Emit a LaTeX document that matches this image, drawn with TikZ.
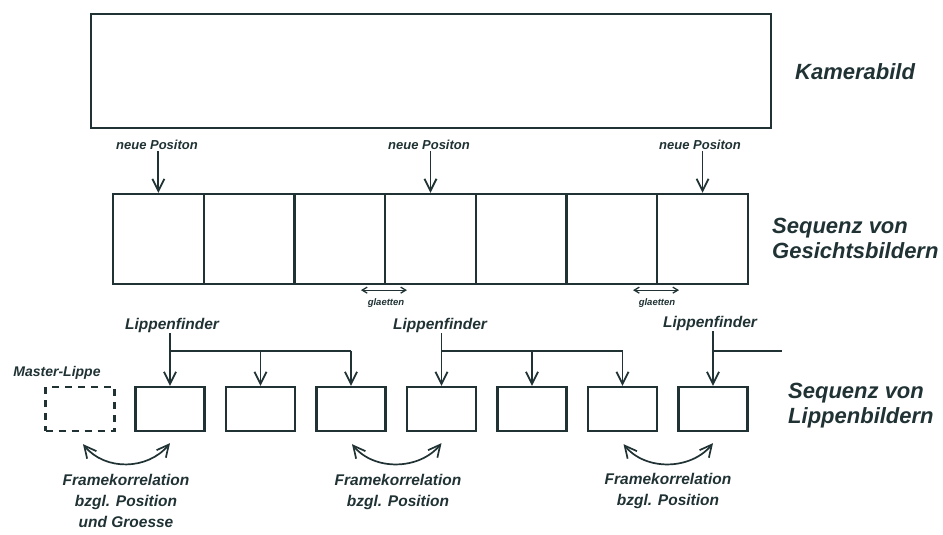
\documentclass[tikz,border=0pt]{standalone}
\usepackage{fontspec}
\setmainfont{Liberation Sans}
\usetikzlibrary{arrows.meta,calc}
\definecolor{ink}{RGB}{32,50,52}
\begin{document}
\begin{tikzpicture}[x=1pt,y=-1pt,
  every node/.style={text=ink,font=\bfseries\itshape},
  box/.style={draw=ink,line width=2.3pt,inner sep=0pt},
  cell/.style={box,minimum width=90.7pt,minimum height=90pt},
  lip/.style={box,minimum width=69pt,minimum height=44pt},
  conn/.style={draw=ink,line width=1.8pt},
  arr/.style={conn,-{Straight Barb[length=12pt,width=12pt,line width=1.8pt]}},
  dbl/.style={conn,line width=1.3pt,{Straight Barb[length=5pt,width=6pt]}-{Straight Barb[length=5pt,width=6pt]}},
  corr/.style={conn,line width=1.7pt,{Straight Barb[length=12pt,width=12pt,line width=1.7pt]}-{Straight Barb[length=12pt,width=12pt,line width=1.7pt]}},
  small/.style={font=\bfseries\itshape\fontsize{13}{15}\selectfont},
  tiny/.style={font=\bfseries\itshape\fontsize{9.5}{11}\selectfont},
  mid/.style={font=\bfseries\itshape\fontsize{15.5}{21}\selectfont},
  big/.style={font=\bfseries\itshape\fontsize{22}{25}\selectfont}]
\useasboundingbox (0,0) rectangle (943,535);

% camera image
\node[box,minimum width=680pt,minimum height=114pt,anchor=north west] (cam) at (90,13) {};
\node[big,anchor=west,inner sep=0pt] (camlabel) at (795,72) {Kamerabild};

% face sequence
\foreach \i in {1,...,7}{
  \node[cell] (f\i) at ({113+90.7*(\i-0.5)},239) {};
}
\node[big,anchor=west,align=left,inner sep=0pt] (facelabel) at (772,238) {Sequenz von\\Gesichtsbildern};

% neue Positon
\node[small,inner sep=1pt] (np1) at (157,145) {neue Positon};
\node[small,inner sep=1pt] (np4) at (429,145) {neue Positon};
\node[small,inner sep=1pt] (np7) at (700,145) {neue Positon};
\foreach \i in {1,4,7}{
  \draw[arr] (np\i.south -| f\i.north) -- (f\i.north);
}

% glaetten
\node[tiny,inner sep=0pt] (gl1) at (386,303) {glaetten};
\node[tiny,inner sep=0pt] (gl2) at (657,303) {glaetten};
\draw[dbl] ($(f4.south west)+(-23,5)$) -- ($(f4.south west)+(23,5)$);
\draw[dbl] ($(f7.south west)+(-23,5)$) -- ($(f7.south west)+(23,5)$);

% lip sequence
\foreach \i in {1,...,7}{
  \node[lip] (l\i) at ({170+90.5*(\i-1)},409) {};
}
\node[lip,dashed,dash pattern=on 7pt off 6pt] (master) at (80,409) {};
\node[small,font=\bfseries\itshape\fontsize{14}{16}\selectfont,inner sep=0pt] (masterlabel) at (57,373) {Master-Lippe};
\node[big,anchor=west,align=left,inner sep=0pt] (liplabel) at (788,406) {Sequenz von\\Lippenbildern};

% Lippenfinder
\node[mid,inner sep=1pt] (lf1) at (172,325) {Lippenfinder};
\node[mid,inner sep=1pt] (lf4) at (440,325) {Lippenfinder};
\node[mid,inner sep=1pt] (lf7) at (710,323) {Lippenfinder};
\coordinate (h1) at (l1.north |- 0,351);
\coordinate (h4) at (l4.north |- 0,351);
\coordinate (h7) at (l7.north |- 0,351);
\coordinate (hend) at (782,351);
\draw[conn] (lf1.south -| l1.north) -- (h1) -- (h1 -| l3.north);
\draw[conn] (lf4.south -| l4.north) -- (h4) -- (h4 -| l6.north);
\draw[conn] (lf7.south -| l7.north) -- (h7) -- (hend);
\foreach \i in {1,...,7}{
  \draw[arr] (l\i.north |- h1) -- (l\i.north);
}

% Framekorrelation
\draw[corr] ($(master.south)+(3,12)$) .. controls +(22,27) and +(-22,27) .. ($(l1.south)+(0,11)$);
\draw[corr] ($(l3.south)+(1,12)$) .. controls +(22,27) and +(-22,27) .. ($(l4.south)+(0,11)$);
\draw[corr] ($(l6.south)+(1,12)$) .. controls +(22,27) and +(-22,27) .. ($(l7.south)+(0,11)$);
\node[mid,anchor=north,align=center,inner sep=0pt] (fk1) at (126,474) {Framekorrelation\\bzgl. Position\\und Groesse};
\node[mid,anchor=north,align=center,inner sep=0pt] (fk2) at (398,474) {Framekorrelation\\bzgl. Position};
\node[mid,anchor=north,align=center,inner sep=0pt] (fk3) at (668,473) {Framekorrelation\\bzgl. Position};
\end{tikzpicture}
\end{document}
